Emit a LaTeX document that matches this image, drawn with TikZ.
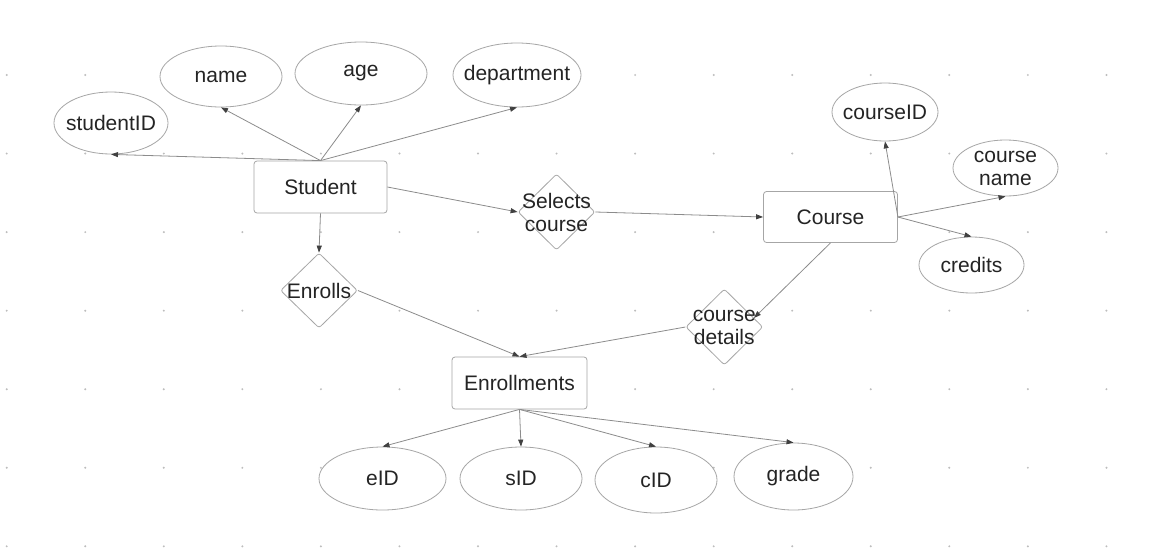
\documentclass[tikz,border=0pt]{standalone}
\usepackage{fontspec}
\setmainfont{Liberation Sans}
\usetikzlibrary{shapes.geometric,arrows.meta}
\definecolor{txt}{HTML}{242424}
\definecolor{shp}{HTML}{A6A6A6}
\definecolor{lnc}{HTML}{8C8C8C}
\definecolor{arc}{HTML}{404040}
\definecolor{dotc}{HTML}{BDBDBD}
\tikzset{
  tx/.style={font=\fontsize{21}{23}\selectfont, text=txt, inner sep=0pt, align=center},
  ent/.style={draw=shp, fill=white, line width=0.8pt, rounded corners=3pt, tx},
  attr/.style={ellipse, draw=shp, fill=white, line width=0.8pt, inner sep=0pt},
  rel/.style={diamond, draw=shp, fill=white, line width=0.8pt, inner sep=0pt, rounded corners=2.5pt},
  conn/.style={draw=lnc, line width=0.8pt, -{Triangle[length=7pt,width=5pt,color=arc]}},
}
\begin{document}
\begin{tikzpicture}[x=1pt,y=-1pt]
\useasboundingbox (0,0) rectangle (1150,552);
\fill[white] (0,0) rectangle (1150,552);
\foreach \i in {0,...,14} {
  \foreach \j in {0,...,6} {
    \fill[dotc] ({6.7+78.55*\i},{75+78.55*\j}) circle (1.1pt);
  }
}
% entities
\node[ent, minimum width=133, minimum height=52] (stu) at (320.5,187) {Student};
\node[ent, minimum width=134, minimum height=51] (crs) at (830.5,217) {Course};
\node[ent, minimum width=135, minimum height=52] (enrl) at (519.5,383) {Enrollments};
% attributes
\node[attr, minimum width=114, minimum height=62, label={[tx]center:studentID}] (sid) at (111,123) {};
\node[attr, minimum width=122, minimum height=61, label={[tx]center:name}] (nam) at (221,76.5) {};
\node[attr, minimum width=132, minimum height=63, label={[tx]center:age}] (age) at (361,73.5) {};
\node[attr, minimum width=128, minimum height=64, label={[tx]center:department}] (dep) at (517,75) {};
\node[attr, minimum width=106, minimum height=58, label={[tx]center:courseID}] (cid) at (885,112) {};
\node[attr, minimum width=105, minimum height=56, label={[tx]center:course\\name}] (cnm) at (1005.5,168) {};
\node[attr, minimum width=105, minimum height=56, label={[tx]center:credits}] (cre) at (971.5,265) {};
\node[attr, minimum width=127, minimum height=63, label={[tx]center:eID}] (eid) at (382.5,478.5) {};
\node[attr, minimum width=122, minimum height=63, label={[tx]center:sID}] (sidd) at (521,478.5) {};
\node[attr, minimum width=122, minimum height=66, label={[tx]center:cID}] (cidd) at (656,480) {};
\node[attr, minimum width=119, minimum height=67, label={[tx]center:grade}] (grd) at (793.5,476.5) {};
% relationships
\node[rel, minimum width=77, minimum height=76, label={[tx]center:Selects\\course}] (sel) at (556.5,212) {};
\node[rel, minimum width=77, minimum height=75, label={[tx]center:Enrolls}] (enr) at (319,290.5) {};
\node[rel, minimum width=77, minimum height=76, label={[tx]center:course\\details}] (cdt) at (724.3,327) {};
% connectors
\draw[conn] (stu.north) -- (sid.south);
\draw[conn] (stu.north) -- (nam.south);
\draw[conn] (stu.north) -- (age.south);
\draw[conn] (stu.north) -- (dep.south);
\draw[conn] (stu.east) -- (sel.west);
\draw[conn] (stu.south) -- (enr.north);
\draw[conn] (sel.east) -- (crs.west);
\draw[conn] (crs.east) -- (cid.south);
\draw[conn] (crs.east) -- (cnm.south);
\draw[conn] (crs.east) -- (cre.north);
\draw[conn] (crs.south) -- (cdt.17);
\draw[conn] (cdt.west) -- (enrl.north);
\draw[conn] (enr.east) -- (enrl.north);
\draw[conn] (enrl.south) -- (eid.north);
\draw[conn] (enrl.south) -- (sidd.north);
\draw[conn] (enrl.south) -- (cidd.north);
\draw[conn] (enrl.south) -- (grd.north);
\end{tikzpicture}
\end{document}
